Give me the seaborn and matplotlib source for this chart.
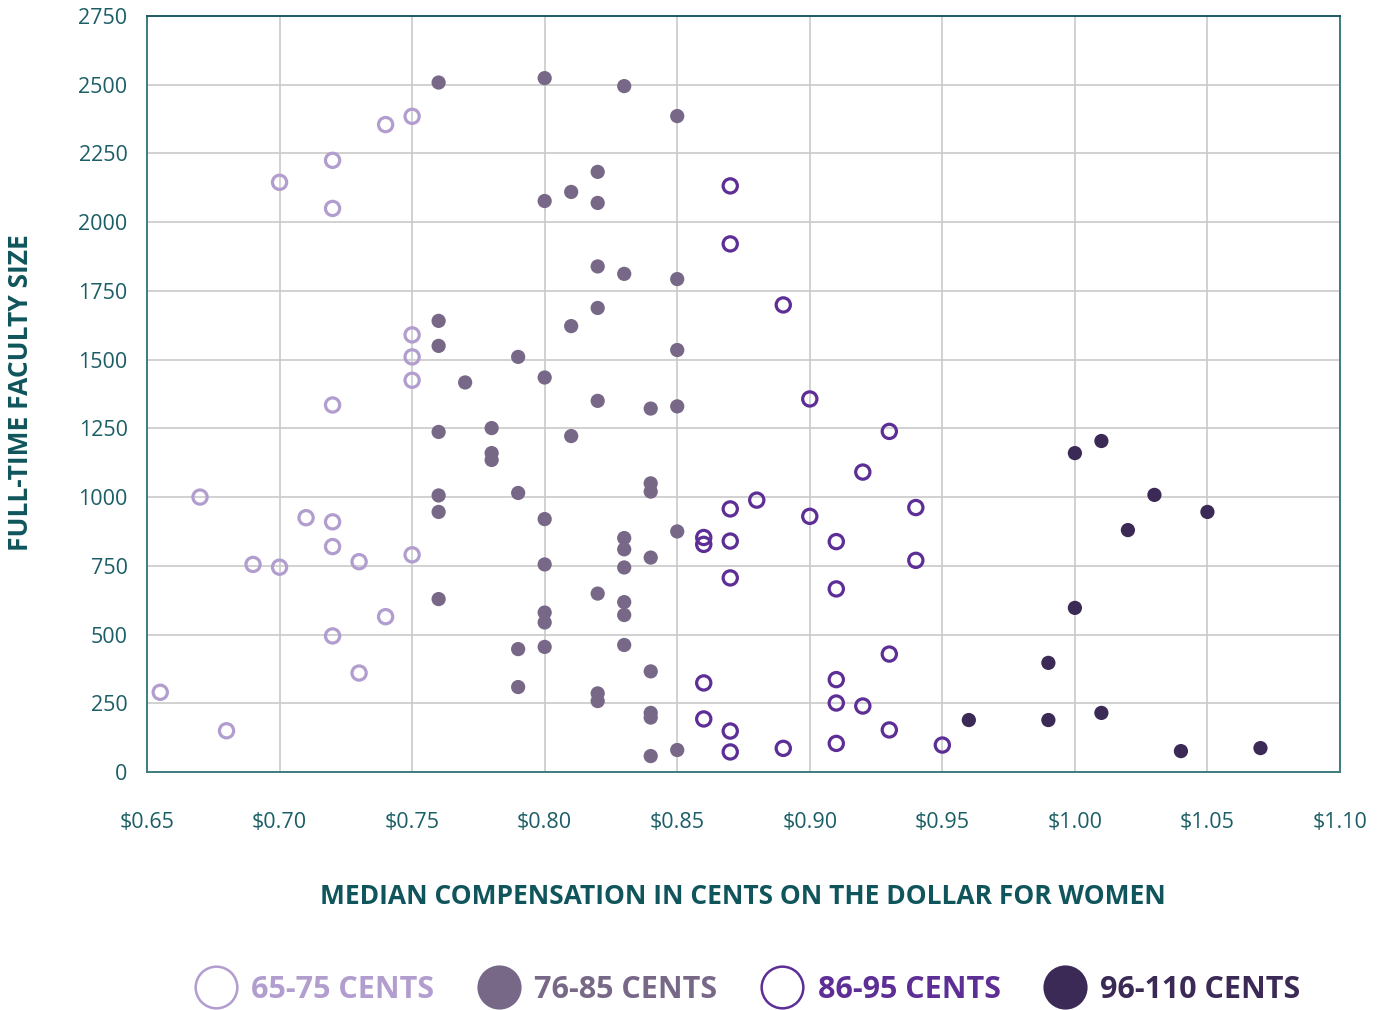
import numpy as np
import pandas as pd
import matplotlib
matplotlib.use("Agg")
import matplotlib.pyplot as plt
from matplotlib.lines import Line2D
import seaborn as sns

# ---------------- data ----------------
g1_x = [0.655, 0.68, 0.67, 0.69, 0.70, 0.71, 0.72, 0.72, 0.72, 0.72, 0.72, 0.72,
        0.70, 0.73, 0.73, 0.74, 0.74, 0.75, 0.75, 0.75, 0.75, 0.75]
g1_y = [290, 150, 1000, 755, 745, 925, 910, 820, 495, 1335, 2225, 2050,
        2145, 765, 360, 565, 2355, 2385, 790, 1590, 1510, 1425]

g2_x = [0.76, 0.80, 0.83, 0.85, 0.82, 0.81, 0.80, 0.82, 0.82, 0.83, 0.85, 0.82,
        0.81, 0.76, 0.76, 0.79, 0.85, 0.80, 0.77, 0.82, 0.84, 0.85, 0.78, 0.81,
        0.76, 0.78, 0.78, 0.79, 0.76, 0.76, 0.84, 0.84, 0.80, 0.83, 0.83, 0.84,
        0.83, 0.85, 0.80, 0.82, 0.76, 0.83, 0.83, 0.80, 0.80, 0.79, 0.80, 0.83,
        0.84, 0.79, 0.82, 0.82, 0.84, 0.84, 0.85, 0.84]
g2_y = [2508, 2524, 2495, 2386, 2183, 2110, 2077, 2070, 1839, 1812, 1793, 1688,
        1622, 1641, 1550, 1510, 1535, 1435, 1417, 1350, 1322, 1330, 1251, 1222,
        1237, 1160, 1135, 1015, 1006, 946, 1050, 1020, 920, 851, 810, 780,
        744, 875, 755, 649, 629, 618, 571, 580, 544, 447, 455, 462,
        366, 309, 286, 258, 215, 198, 80, 58]

g3_x = [0.87, 0.87, 0.89, 0.90, 0.93, 0.92, 0.88, 0.94, 0.87, 0.90, 0.86, 0.86,
        0.87, 0.91, 0.94, 0.87, 0.91, 0.93, 0.91, 0.86, 0.91, 0.92, 0.86, 0.87,
        0.93, 0.91, 0.95, 0.89, 0.87]
g3_y = [2132, 1921, 1699, 1357, 1239, 1091, 989, 962, 957, 930, 853, 828,
        840, 838, 770, 706, 666, 429, 336, 324, 251, 240, 193, 149,
        153, 104, 98, 86, 73]

g4_x = [1.00, 1.01, 1.03, 1.02, 1.05, 1.00, 0.99, 0.99, 0.96, 1.01, 1.04, 1.07]
g4_y = [1160, 1204, 1008, 880, 946, 597, 397, 189, 189, 215, 76, 87]

groups = ["65-75 CENTS", "76-85 CENTS", "86-95 CENTS", "96-110 CENTS"]
colors = ["#b29dcf", "#786888", "#5d2e96", "#3b2956"]
filled = [False, True, False, True]

x_ticks = [0.65, 0.70, 0.75, 0.80, 0.85, 0.90, 0.95, 1.00, 1.05, 1.10]
y_ticks = list(range(0, 2751, 250))
x_label = "MEDIAN COMPENSATION IN CENTS ON THE DOLLAR FOR WOMEN"
y_label = "FULL-TIME FACULTY SIZE"

df = pd.concat([
    pd.DataFrame({"x": g1_x, "y": g1_y, "group": groups[0]}),
    pd.DataFrame({"x": g2_x, "y": g2_y, "group": groups[1]}),
    pd.DataFrame({"x": g3_x, "y": g3_y, "group": groups[2]}),
    pd.DataFrame({"x": g4_x, "y": g4_y, "group": groups[3]}),
], ignore_index=True)

# ---------------- style ----------------
sns.set_theme(style="white")
plt.rcParams["font.family"] = ["Open Sans", "DejaVu Sans"]
teal = "#1b5e66"
label_teal = "#0f555b"
spine_c = "#3c7c80"

fig = plt.figure(figsize=(13.85, 10.10), dpi=100)
ax = fig.add_axes([147 / 1385, 1 - 772 / 1010, (1340 - 147) / 1385, (772 - 16) / 1010])

for grp, col, fil in zip(groups, colors, filled):
    sub = df[df["group"] == grp]
    if fil:
        sns.scatterplot(data=sub, x="x", y="y", ax=ax, color=col, s=105,
                        edgecolor="none", linewidth=0, zorder=3)
    else:
        sns.scatterplot(data=sub, x="x", y="y", ax=ax, color=col, s=105,
                        facecolor="none", edgecolor=col, linewidth=2.3, zorder=3)

ax.set_xlim(0.65, 1.10)
ax.set_ylim(0, 2750)
ax.set_xticks(x_ticks)
ax.set_xticklabels([f"${v:.2f}" for v in x_ticks])
ax.set_yticks(y_ticks)
ax.set_yticklabels([str(v) for v in y_ticks])
ax.grid(True, color="#c9c9c9", linewidth=1.2)
ax.set_axisbelow(True)
for sp in ax.spines.values():
    sp.set_visible(True)
    sp.set_color(spine_c)
    sp.set_linewidth(1.4)
ax.spines["top"].set_color("#1f5a60")

ax.tick_params(axis="x", length=0, pad=29, labelsize=15.5, labelcolor=teal)
ax.tick_params(axis="y", length=0, pad=14, labelsize=15.5, labelcolor=teal)

ax.set_xlabel(x_label, fontsize=19, fontweight="bold", color=label_teal)
ax.set_ylabel(y_label, fontsize=19, fontweight="bold", color=label_teal)
ax.xaxis.set_label_coords((743 - 147) / 1193, (772 - 896) / 756)
ax.xaxis.label.set_va("center")
ax.yaxis.set_label_coords((21 - 147) / 1193, (772 - 393) / 756)
ax.yaxis.label.set_va("center")

# ---------------- legend ----------------
handles = []
for grp, col, fil in zip(groups, colors, filled):
    handles.append(Line2D([], [], linestyle="none", marker="o", markersize=30,
                          markerfacecolor=col if fil else "white",
                          markeredgecolor=col, markeredgewidth=1.8, label=grp))
leg = fig.legend(handles=handles, loc="center", bbox_to_anchor=(749 / 1385, 1 - 990 / 1010),
                 ncol=4, frameon=False, handlelength=1.2, handletextpad=0.57,
                 columnspacing=1.5, prop={"size": 22, "weight": "bold"})
for txt, col in zip(leg.get_texts(), colors):
    txt.set_color(col)

fig.savefig("out.png", dpi=100)
